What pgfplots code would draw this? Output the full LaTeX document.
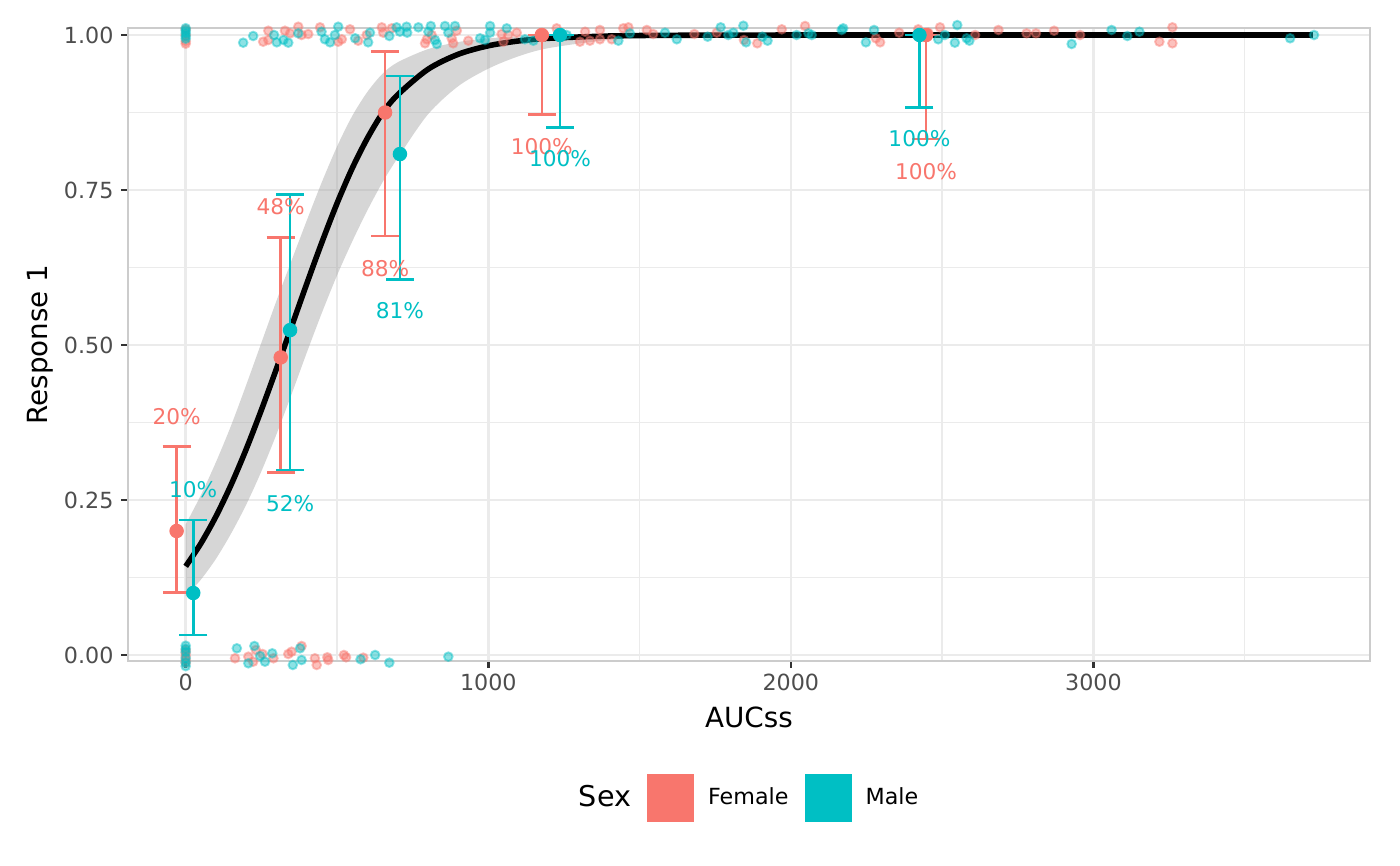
\documentclass[border=0pt]{standalone}
\usepackage{fontspec}
\setmainfont{DejaVu Sans}
\usepackage{pgfplots}
\pgfplotsset{compat=1.18}
\usepgfplotslibrary{fillbetween}
\definecolor{fem}{HTML}{F8766D}
\definecolor{mal}{HTML}{00BFC4}
\definecolor{rib}{HTML}{999999}
\definecolor{tickc}{HTML}{333333}
\definecolor{tlab}{HTML}{4D4D4D}
\definecolor{gridc}{HTML}{EBEBEB}
\definecolor{borderc}{HTML}{CCCCCC}
\begin{document}
\begin{tikzpicture}
\begin{axis}[
  at={(46.08pt,73.44pt)}, anchor=south west,
  width=447.12pt, height=227.88pt, scale only axis,
  xmin=-190.7, xmax=3914, ymin=-0.0097, ymax=1.0113,
  clip=false,
  xtick={0,1000,2000,3000}, minor xtick={500,1500,2500,3500},
  ytick={0,0.25,0.5,0.75,1}, minor ytick={0.125,0.375,0.625,0.875},
  grid=both,
  major grid style={gridc, line width=0.95pt},
  minor grid style={gridc, line width=0.47pt},
  axis line style={borderc, line width=0.95pt},
  tick pos=left, tick align=outside,
  major tick length=2.4pt, minor tick length=0pt,
  tick style={tickc, line width=0.95pt},
  /pgf/number format/assume math mode=true,
  ticklabel style={font=\fontsize{8}{9.5}\selectfont, text=tlab},
  xticklabel style={inner sep=0pt, anchor=north, yshift=-2.0pt, /pgf/number format/1000 sep={}},
  yticklabel style={inner sep=0pt, anchor=east, xshift=-2.64pt, /pgf/number format/.cd, fixed, fixed zerofill, precision=2},
  xlabel={AUCss}, ylabel={Response 1},
  label style={font=\fontsize{10.3}{12}\selectfont},
  every axis x label/.style={at={(axis description cs:0.5,-0.0885)}, anchor=center},
  every axis y label/.style={at={(axis description cs:-0.0709,0.5)}, rotate=90, anchor=center},
  legend style={at={(axis description cs:0.494,-0.2164)}, anchor=center, draw=none, fill=none,
    legend columns=3, font=\fontsize{8}{9.5}\selectfont,
    /tikz/every odd column/.append style={column sep=5.04pt},
    /tikz/every even column/.append style={column sep=5.76pt},
    nodes={inner sep=0pt}},
  legend cell align=left,
]
\addlegendimage{empty legend}
\addlegendentry{\fontsize{10.3}{12}\selectfont Sex}
\addlegendimage{legend image code/.code={\fill[fem] (0pt,-8.28pt) rectangle (16.56pt,8.28pt);}}
\addlegendentry{Female}
\addlegendimage{legend image code/.code={\fill[mal] (0pt,-8.28pt) rectangle (16.56pt,8.28pt);}}
\addlegendentry{Male}

% ribbon (confidence band of the fitted curve)
\addplot[name path=up, draw=none, smooth, forget plot] coordinates {(0,0.2107)(50,0.2577)(100,0.3111)(150,0.3701)(200,0.4356)(250,0.5035)(300,0.5713)(350,0.6365)(400,0.7006)(450,0.7628)(500,0.8199)(550,0.8691)(600,0.9079)(650,0.9373)(700,0.9559)(800,0.9771)(900,0.9886)(1000,0.9946)(1100,0.9974)(1200,0.9987)(1400,0.9996)(1600,1.0)(2000,1.0)(2500,1.0)(3000,1.0)(3725,1.0)};
\addplot[name path=lo, draw=none, smooth, forget plot] coordinates {(0,0.0944)(50,0.1215)(100,0.1551)(150,0.1959)(200,0.2425)(250,0.2961)(300,0.3560)(350,0.4207)(400,0.4875)(450,0.5518)(500,0.6121)(550,0.6666)(600,0.7167)(650,0.7621)(700,0.8012)(800,0.8716)(900,0.9172)(1000,0.9457)(1100,0.9657)(1200,0.9789)(1400,0.9921)(1600,0.9972)(2000,0.9997)(2500,1.0)(3000,1.0)(3725,1.0)};
\addplot[fill=rib, fill opacity=0.4, draw=none, forget plot] fill between[of=up and lo];
% fitted curve
\addplot[black, line width=2pt, smooth, forget plot] coordinates {(0,0.1430)(50,0.1798)(100,0.2236)(150,0.2745)(200,0.3320)(250,0.3951)(300,0.4618)(350,0.5300)(400,0.5987)(450,0.6655)(500,0.7283)(550,0.7847)(600,0.8331)(650,0.8737)(700,0.9033)(800,0.9445)(900,0.9688)(1000,0.9826)(1100,0.9904)(1200,0.9947)(1400,0.9984)(1600,0.9995)(2000,1.0)(2500,1.0)(3000,1.0)(3725,1.0)};

% jittered observations, female
\addplot[only marks, mark=*, mark size=1.55pt, fem, forget plot, mark options={fill=fem, fill opacity=0.45, draw opacity=0.45, line width=0.7pt}] coordinates {
(0,1.009)(0,1.0)(0,0.99)(0,0.986)
(256,0.9892)(273,1.0069)(273,0.9919)(328,1.0069)(345,1.0027)(372,1.0134)(383,1.0)(405,1.0016)(444,1.0124)(504,0.9892)(516,0.9931)(543,1.0092)(570,0.9908)(598,1.0)(648,1.0124)(653,1.0037)(681,1.0108)(791,0.9866)(797,0.9931)(813,1.0)(879,0.9947)(884,0.9866)(896,1.0069)(934,0.9908)(1044,1.0016)(1050,0.9892)(1066,1.0)(1094,1.0037)(1226,1.0108)(1303,0.9892)(1320,1.0053)(1336,0.9908)(1369,1.0081)(1369,0.9931)(1408,0.9931)
(1446,1.0108)(1463,1.0124)(1524,1.0081)(1545,1.0016)(1681,1.0016)(1755,1.0037)(1845,0.9919)(1889,0.9866)(1970,1.0092)(2047,1.0145)(2281,0.9947)(2295,0.9882)(2358,1.0037)(2421,1.0092)(2454,1.0037)(2493,1.0124)(2609,1.0)(2686,1.0081)(2779,1.0027)(2810,1.0027)(2870,1.0069)(2956,1.0)(3218,0.9892)(3261,1.0124)(3261,0.9866)
(0,0.008)(0,0.003)(0,-0.002)(0,-0.008)(0,-0.013)
(163,-0.0053)(207,-0.0027)(223,-0.0108)(232,0.0081)(254,0.0016)(290,-0.0053)(339,0.0016)(350,0.0053)(383,0.0145)(427,-0.0053)(433,-0.0161)(468,-0.0037)(471,-0.0081)(523,0.0)(530,-0.0037)(587,-0.0043)
};
% jittered observations, male
\addplot[only marks, mark=*, mark size=1.55pt, mal, forget plot, mark options={fill=mal, fill opacity=0.45, draw opacity=0.45, line width=0.7pt}] coordinates {
(0,1.011)(0,1.007)(0,1.003)(0,0.998)(0,0.994)
(190,0.9876)(223,0.9984)(292,1.0)(301,0.9882)(323,0.9919)(339,0.9876)(372,1.0027)(449,1.0053)(460,0.9931)(477,0.9882)(493,1.0)(504,1.0134)(560,0.9947)(603,0.9882)(609,1.0037)(673,0.9984)(697,1.0124)(708,1.0053)(730,1.0134)(732,1.0037)(769,1.0124)(802,1.0053)(810,1.0145)(824,0.9919)(830,0.9855)(857,1.0145)(868,1.0037)(890,1.0145)(973,0.9947)(989,0.9919)(1006,1.0145)(1006,1.0037)(1061,1.0108)(1121,0.9931)(1149,0.9908)(1259,1.0)(1430,0.9908)
(1468,1.0027)(1584,1.0037)(1623,0.9931)(1725,0.9973)(1768,1.0124)(1793,1.0)(1810,1.0037)(1843,1.015)(1852,0.9882)(1906,0.9973)(1923,0.9908)(2019,1.0)(2058,1.0027)(2069,1.0)(2168,1.0081)(2173,1.0108)(2248,0.9882)(2275,1.0081)(2487,0.9931)(2509,1.0)(2542,0.9876)(2550,1.016)(2581,0.9947)(2590,0.9908)(2928,0.9855)(3060,1.0081)(3112,0.9984)(3152,1.0053)(3650,0.9947)(3729,1.0)
(0,0.015)(0,0.01)(0,0.005)(0,-0.005)(0,-0.012)(0,-0.018)
(169,0.0108)(207,-0.0134)(227,0.0145)(246,-0.0016)(262,-0.0108)(286,0.0027)(354,-0.0161)(378,0.0108)(383,-0.0081)(578,-0.0069)(626,0.0)(673,-0.0124)(868,-0.0027)
};

% group proportions with confidence intervals
\addplot[fem, only marks, mark=*, mark size=2.4pt, forget plot,
  error bars/.cd, y dir=both, y explicit,
  error bar style={line width=0.95pt, fem},
  error mark options={rotate=90, mark size=5.04pt, line width=0.95pt, fem}]
  coordinates {(-30,0.2) += (0,0.136) -= (0,0.0995)
  (314,0.48) += (0,0.1937) -= (0,0.186)
  (659,0.875) += (0,0.098) -= (0,0.199)
  (1177,1) += (0,0) -= (0,0.128)
  (2447,1) += (0,0) -= (0,0.168)};
\addplot[mal, only marks, mark=*, mark size=2.4pt, forget plot,
  error bars/.cd, y dir=both, y explicit,
  error bar style={line width=0.95pt, mal},
  error mark options={rotate=90, mark size=5.04pt, line width=0.95pt, mal}]
  coordinates {(25,0.1) += (0,0.1177) -= (0,0.0677)
  (345,0.524) += (0,0.219) -= (0,0.2256)
  (708,0.808) += (0,0.126) -= (0,0.202)
  (1237,1) += (0,0) -= (0,0.149)
  (2425,1) += (0,0) -= (0,0.1166)};

% percentage labels
\addplot[draw=none, forget plot, nodes near coords, point meta=explicit symbolic,
  nodes near coords style={anchor=center, inner sep=0pt, font=\fontsize{7.8}{9}\selectfont, text=fem}]
  coordinates {(-30,0.3844) [20\%] (314,0.723) [48\%] (659,0.6237) [88\%] (1177,0.820) [100\%] (2447,0.7796) [100\%]};
\addplot[draw=none, forget plot, nodes near coords, point meta=explicit symbolic,
  nodes near coords style={anchor=center, inner sep=0pt, font=\fontsize{7.8}{9}\selectfont, text=mal}]
  coordinates {(25,0.266) [10\%] (345,0.2446) [52\%] (708,0.5553) [81\%] (1237,0.801) [100\%] (2425,0.8333) [100\%]};
\end{axis}
\pgfresetboundingbox
\path[use as bounding box] (0,0) rectangle (504pt,311.4pt);
\end{tikzpicture}
\end{document}
